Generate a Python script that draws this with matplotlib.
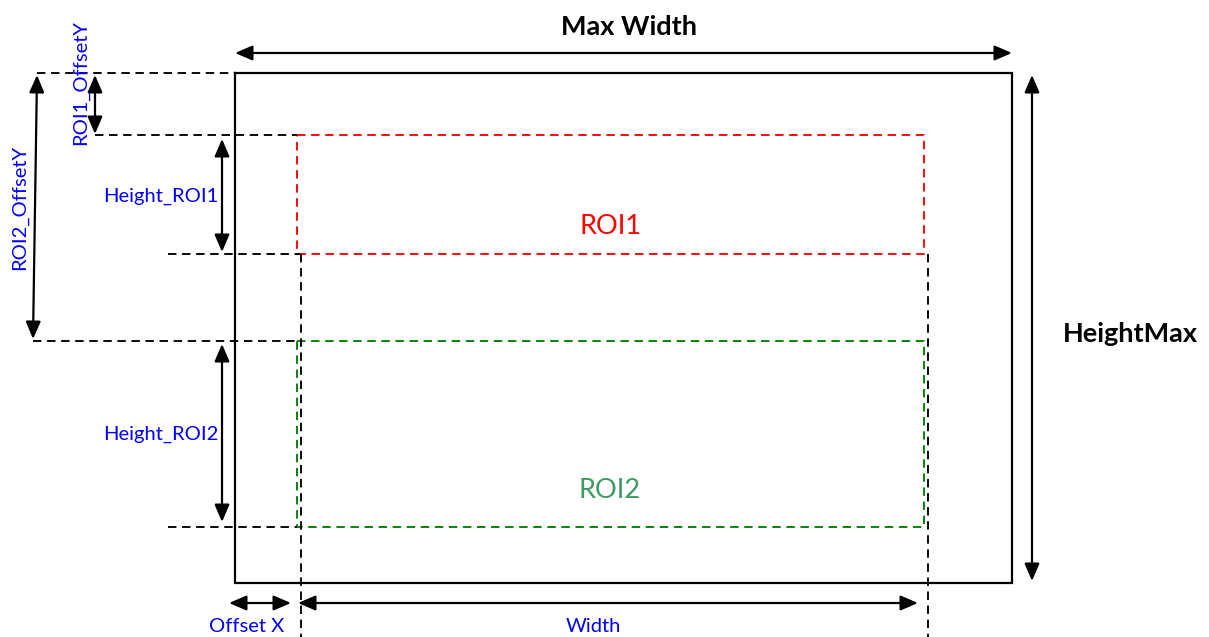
import matplotlib.pyplot as plt

# diagram geometry, in pixels of the 1209x637 picture (y grows downward)
frame = (235, 73, 1012, 583)          # full sensor: x0, y0, x1, y1
roi1 = (297, 135, 924, 254)
roi2 = (297, 341, 924, 527)

# black dashed guide lines: (x0, y0, x1, y1)
guides = [
    (37, 73, 235, 73),
    (95, 135, 297, 135),
    (168, 254, 300, 254),
    (33, 341, 297, 341),
    (168, 527, 297, 527),
    (301, 254, 301, 637),
    (928, 254, 928, 637),
]

# double headed dimension arrows: (x0, y0, x1, y1)
arrows = [
    (235, 53, 1012, 53),
    (1032, 75, 1032, 581),
    (95, 75, 95, 134),
    (37, 75, 33, 339),
    (222, 139, 222, 252),
    (222, 344, 222, 522),
    (229, 603, 291, 603),
    (298, 603, 918, 603),
]

# labels: text, x, y, colour, size, weight, rotation
labels = [
    ("Max Width", 629, 27, "black", 19.5, "bold", 0),
    ("HeightMax", 1130, 334, "black", 19.5, "bold", 0),
    ("ROI1", 610, 226, "#ff0000", 19.5, "normal", 0),
    ("ROI2", 610, 491, "#3c9b61", 19.5, "normal", 0),
    ("ROI1_OffsetY", 80, 83, "#0000ff", 14.5, "normal", 90),
    ("ROI2_OffsetY", 19, 207, "#0000ff", 14.5, "normal", 90),
    ("Height_ROI1", 161, 196, "#0000ff", 14.5, "normal", 0),
    ("Height_ROI2", 161, 434, "#0000ff", 14.5, "normal", 0),
    ("Offset X", 247, 626, "#0000ff", 14.5, "normal", 0),
    ("Width", 593, 626, "#0000ff", 14.5, "normal", 0),
]

plt.rcParams['font.family'] = ['Lato', 'DejaVu Sans']

fig = plt.figure(figsize=(12.09, 6.37), dpi=100)
ax = fig.add_axes([0, 0, 1, 1])
ax.set_xlim(0, 1209)
ax.set_ylim(637, 0)
ax.axis('off')

dash = (0, (4.5, 3))


def rect(ax, r, **kw):
    x0, y0, x1, y1 = r
    ax.plot([x0, x1, x1, x0, x0], [y0, y0, y1, y1, y0], **kw)


rect(ax, frame, color='black', lw=1.6, solid_joinstyle='miter')
rect(ax, roi1, color='#ff0000', lw=1.35, linestyle=dash)
rect(ax, roi2, color='#008000', lw=1.35, linestyle=dash)

for x0, y0, x1, y1 in guides:
    ax.plot([x0, x1], [y0, y1], color='black', lw=1.35, linestyle=dash)

for x0, y0, x1, y1 in arrows:
    ax.annotate('', xy=(x1, y1), xytext=(x0, y0),
                arrowprops=dict(arrowstyle='<|-|>,head_length=0.7,head_width=0.3',
                                color='black', lw=1.6, mutation_scale=15,
                                shrinkA=0, shrinkB=0))

for txt, x, y, col, size, weight, rot in labels:
    ax.text(x, y, txt, color=col, fontsize=size, fontweight=weight,
            rotation=rot, ha='center', va='center')

fig.savefig('out.png', dpi=100)
